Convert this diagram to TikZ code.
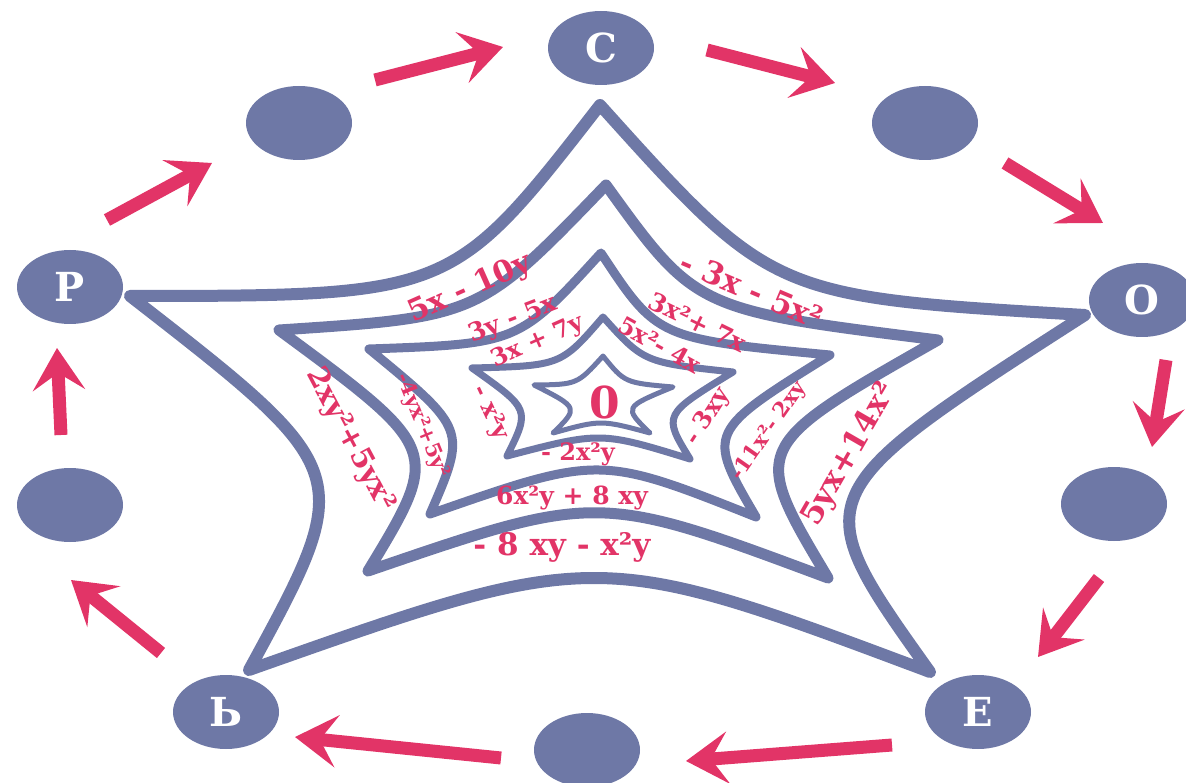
\documentclass[tikz,border=0pt]{standalone}
\usepackage{fontspec}
\setmainfont{DejaVu Serif}
\usetikzlibrary{shapes.geometric,arrows.meta}
\definecolor{starblue}{RGB}{110,120,166}
\definecolor{termpink}{RGB}{226,52,103}

\begin{document}
\begin{tikzpicture}[x=1pt,y=-1pt]
        \tikzset{letter/.style={ellipse,fill=starblue,text=white,inner sep=0pt,
                minimum width=106pt,minimum height=74pt,font=\bfseries\fontsize{40}{40}\selectfont},
            blank/.style={letter},
            ring/.style={draw=starblue,line join=round,line cap=round},
            term/.style={text=termpink,inner sep=0pt,font=\bfseries\fontsize{31}{31}\selectfont},
            midterm/.style={term,font=\bfseries\fontsize{25}{25}\selectfont},
            smallterm/.style={term,font=\bfseries\fontsize{24}{24}\selectfont},
            narrowterm/.style={term,font=\bfseries\fontsize{21}{21}\selectfont},
            arr/.style={draw=termpink,line width=13pt,-{Stealth[length=42pt,width=52pt,inset=17pt]}}}
        \useasboundingbox (0,0) rectangle (1186,783);
        \draw[ring,line width=12pt] (600,105) .. controls (772.5,296.7) .. (1085,315)
            .. controls (804,495.5) .. (930,672) .. controls (596.8,547) .. (249,670)
            .. controls (356.8,472.3) .. (130,296) .. controls (451.7,295.8) .. (600,105) -- cycle;
        \draw[ring,line width=11pt] (606,185) .. controls (696,309.8) .. (938,340)
            .. controls (749.7,447) .. (828,578) .. controls (598,492.2) .. (368,571)
            .. controls (441.5,449.8) .. (279,330) .. controls (479,316.8) .. (606,185) -- cycle;
        \draw[ring,line width=9pt] (601,253) .. controls (657.5,338.7) .. (830,355)
            .. controls (706.3,432) .. (756,517) .. controls (599.7,454.8) .. (430,514)
            .. controls (466.8,429.5) .. (369,349) .. controls (518.3,343.7) .. (601,253) -- cycle;
        \draw[ring,line width=7pt] (603,317) .. controls (644,362.5) .. (733,372)
            .. controls (662.8,414.8) .. (690,459) .. controls (600.5,431.5) .. (507,456)
            .. controls (530.2,409.3) .. (472,368) .. controls (560.8,365.8) .. (603,317) -- cycle;
        \draw[ring,line width=5pt] (603,356) .. controls (624.7,382.8) .. (673,387)
            .. controls (623.5,407.3) .. (650,433) .. controls (600.8,419.7) .. (553,433)
            .. controls (578.8,407.7) .. (534,385) .. controls (577.2,384.5) .. (603,356) -- cycle;
        \node[term,rotate=24,font=\bfseries\fontsize{30}{30}\selectfont] (t10y) at (470,289) {5x - 10y};
        \node[term,rotate=-23] (t3x) at (752,290) {- 3x - 5x²};
        \node[term,rotate=-62,font=\bfseries\fontsize{29}{29}\selectfont] (t2xy) at (350,440) {2xy²+5yx²};
        \node[term,rotate=60] (t5yx) at (850,455) {5yx+14x²};
        \node[term] (t8xy) at (562,547) {- 8 xy - x²y};
        \node[midterm,rotate=21] (t3y) at (513,320) {3y - 5x};
        \node[midterm,rotate=-26] (t3xx) at (698,322) {3x²+ 7x};
        \node[narrowterm,rotate=-68] (t4yx) at (422,426) {-4yx²+5y²};
        \node[narrowterm,rotate=55] (t11x) at (769,431) {-11x²- 2xy};
        \node[midterm] (t6xy) at (572,498) {6x²y + 8 xy};
        \node[smallterm,rotate=24] (t7y) at (538,342) {3x + 7y};
        \node[smallterm,rotate=-29] (t4x) at (660,345) {5x²- 4x};
        \node[smallterm,rotate=-65] (tx2y) at (490,413) {- x²y};
        \node[smallterm,rotate=57] (t3xy) at (708,417) {- 3xy};
        \node[smallterm] (t2x2y) at (578,454) {- 2x²y};
        \node[term,font=\bfseries\fontsize{44}{44}\selectfont] (zero) at (605,402) {0};
        \node[letter] (s) at (601,48) {С};
        \node[blank] (b1) at (925,123) {};
        \node[letter] (o) at (1142,300) {О};
        \node[blank] (b2) at (1114,504) {};
        \node[letter] (e) at (978,712) {Е};
        \node[blank] (b3) at (587,750) {};
        \node[letter] (soft) at (226,712) {Ь};
        \node[blank] (b4) at (70,505) {};
        \node[letter] (r) at (70,287) {Р};
        \node[blank] (b5) at (299,123) {};
        \coordinate (a1) at (107,220); \coordinate (a1') at (212,163);
        \coordinate (a2) at (375,80); \coordinate (a2') at (503,47);
        \coordinate (a3) at (707,50); \coordinate (a3') at (835,83);
        \coordinate (a4) at (1005,163); \coordinate (a4') at (1103,223);
        \coordinate (a5) at (1166,360); \coordinate (a5') at (1152,447);
        \coordinate (a6) at (1099,578); \coordinate (a6') at (1038,657);
        \coordinate (a7) at (892,745); \coordinate (a7') at (686,761);
        \coordinate (a8) at (501,758); \coordinate (a8') at (295,737);
        \coordinate (a9) at (161,653); \coordinate (a9') at (71,580);
        \coordinate (a10) at (61,435); \coordinate (a10') at (57,348);
        \foreach \i in {1,...,10}
            \draw[arr] (a\i) -- (a\i');
\end{tikzpicture}
\end{document}
